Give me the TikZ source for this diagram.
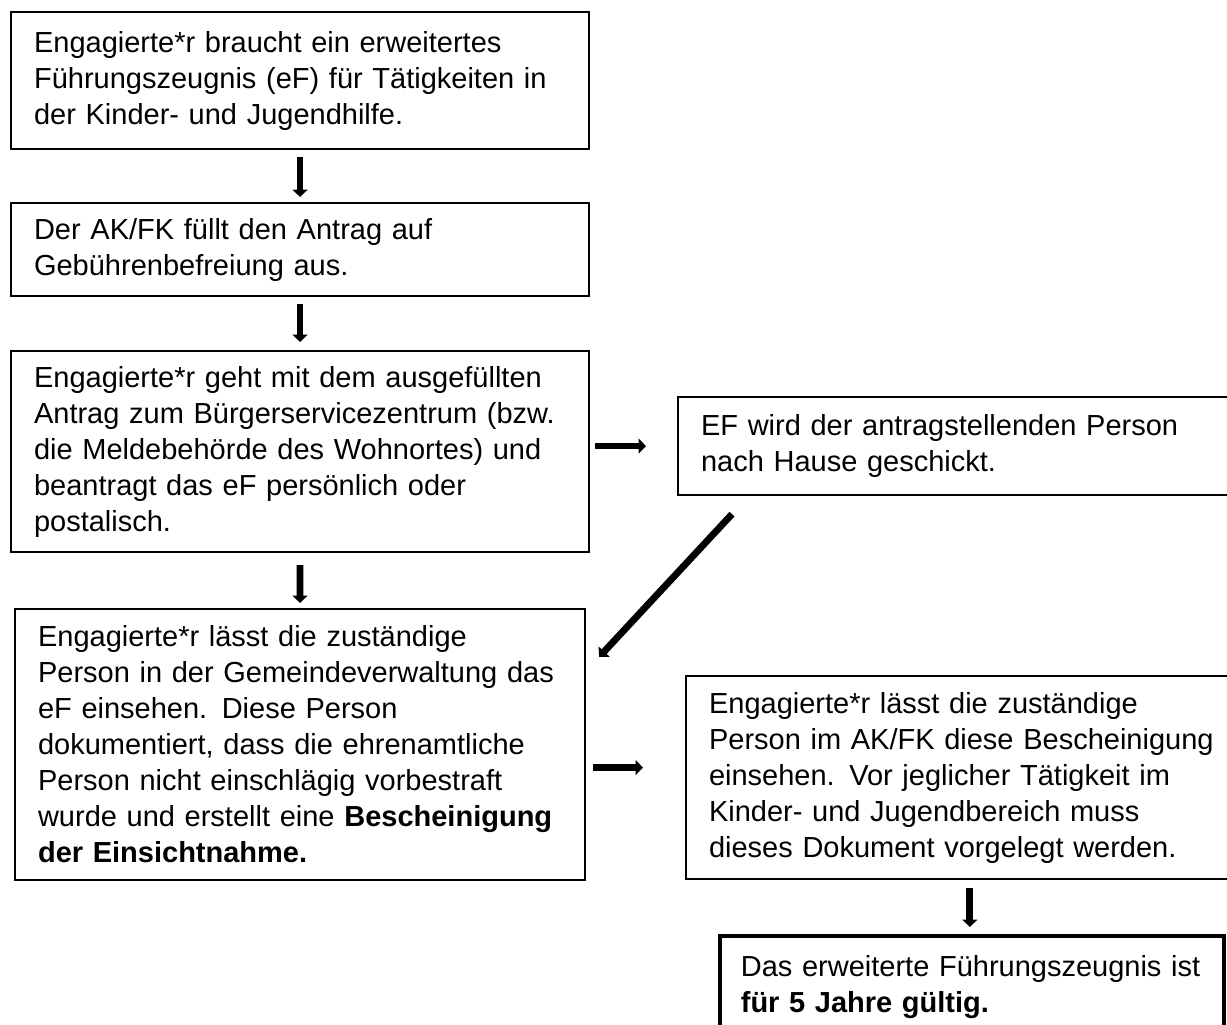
\documentclass[tikz,border=0pt]{standalone}
\usepackage{fontspec}
\setmainfont{Liberation Sans}
\usetikzlibrary{arrows.meta}

\begin{document}
\begin{tikzpicture}[x=0.3793pt, y=-0.3793pt]
    \tikzstyle{kasten}=[draw, line width=0.8pt, anchor=north west, align=left, inner xsep=8.72pt, inner ysep=0pt, font=\fontsize{11}{13.65}\selectfont]
    \tikzstyle{pfeil}=[line width=2.6pt, -{Triangle[width=5.6pt,length=2.8pt]}]
    \useasboundingbox (0,0) rectangle (1227,1024);
    \node[kasten, minimum width=219.24pt, minimum height=51.96pt, text width=201.79pt] (bedarf) at (10,11)
        {Engagierte*r braucht ein erweitertes\\ Führungszeugnis (eF) für Tätigkeiten in\\ der Kinder- und Jugendhilfe.};
    \node[kasten, minimum width=219.24pt, minimum height=35.27pt, text width=201.79pt] (befreiung) at (10,202)
        {Der AK/FK füllt den Antrag auf\\ Gebührenbefreiung aus.};
    \node[kasten, minimum width=219.24pt, minimum height=76.24pt, text width=201.79pt] (beantragung) at (10,350)
        {Engagierte*r geht mit dem ausgefüllten\\ Antrag zum Bürgerservicezentrum (bzw.\\ die Meldebehörde des Wohnortes) und\\ beantragt das eF persönlich oder\\ postalisch.};
    \node[kasten, minimum width=216.20pt, minimum height=102.79pt, text width=198.75pt] (einsicht) at (14,608)
        {Engagierte*r lässt die zuständige\\ Person in der Gemeindeverwaltung das\\ eF einsehen. Diese Person\\ dokumentiert, dass die ehrenamtliche\\ Person nicht einschlägig vorbestraft\\ wurde und erstellt eine \textbf{Bescheinigung}\\ \textbf{der Einsichtnahme.}};
    \node[kasten, minimum width=217.34pt, minimum height=37.17pt, text width=199.89pt] (versand) at (677,396)
        {EF wird der antragstellenden Person\\ nach Hause geschickt.};
    \node[kasten, minimum width=214.30pt, minimum height=77.00pt, text width=196.86pt] (vorlage) at (685,675)
        {Engagierte*r lässt die zuständige\\ Person im AK/FK diese Bescheinigung\\ einsehen. Vor jeglicher Tätigkeit im\\ Kinder- und Jugendbereich muss\\ dieses Dokument vorgelegt werden.};
    \node[kasten, line width=1.4pt, inner xsep=7.97pt, minimum width=191.17pt, minimum height=39.07pt, text width=175.24pt] (gueltig) at (718,934)
        {Das erweiterte Führungszeugnis ist\\ \textbf{für 5 Jahre gültig.}};

    \draw[pfeil] ([shift={(0,7)}]bedarf.south) -- ([shift={(0,-5)}]befreiung.north);
    \draw[pfeil] ([shift={(0,7)}]befreiung.south) -- ([shift={(0,-8)}]beantragung.north);
    \draw[pfeil] ([shift={(0,12)}]beantragung.south) -- ([shift={(0,-5)}]einsicht.north);
    \draw[pfeil] ([shift={(5,0)}]beantragung.east |- versand.west) -- ([shift={(-31,0)}]versand.west);
    \draw[pfeil] ([shift={(55,18)}]versand.south west) -- ([shift={(13,49)}]einsicht.north east);
    \draw[pfeil] ([shift={(7,-10)}]einsicht.east |- vorlage.west) -- ([shift={(-42,-10)}]vorlage.west);
    \draw[pfeil] ([shift={(-2,8)}]gueltig.north |- vorlage.south) -- ([shift={(-2,-7)}]gueltig.north);
\end{tikzpicture}
\end{document}
